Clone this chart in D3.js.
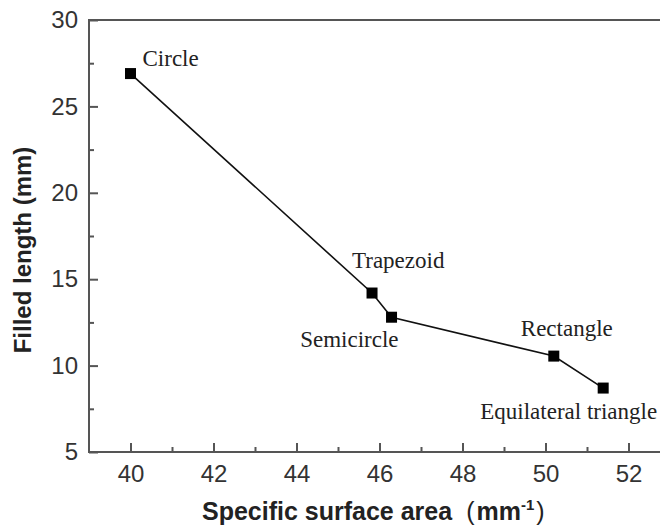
<!DOCTYPE html>
<html>
<head>
<meta charset="utf-8">
<script src="https://cdn.jsdelivr.net/npm/d3@7"></script>
<style>
  body { margin: 0; background: #fff; }
  svg { display: block; }
  .tick text { font-family: "Liberation Sans", Arial, sans-serif; font-size: 24px; fill: #333; }
  .tick line { stroke: #555; stroke-width: 2px; }
</style>
</head>
<body>
<script>
// data
const shapes = ["Circle", "Trapezoid", "Semicircle", "Rectangle", "Equilateral triangle"];
const surfaceArea = [40.0, 45.82, 46.29, 50.2, 51.39];
const filledLength = [26.9, 14.2, 12.8, 10.55, 8.7];
const xTicks = [40, 42, 44, 46, 48, 50, 52];
const xMinor = [41, 43, 45, 47, 49, 51];
const yTicks = [5, 10, 15, 20, 25, 30];
const yMinor = [7.5, 12.5, 17.5, 22.5, 27.5];

// label placement relative to each point (px)
const labelPos = {
  "Circle": { dx: 12, dy: -8, anchor: "start" },
  "Trapezoid": { dx: -20, dy: -25, anchor: "start" },
  "Semicircle": { dx: 7, dy: 30, anchor: "end" },
  "Rectangle": { dx: -33, dy: -20, anchor: "start" },
  "Equilateral triangle": { dx: 54, dy: 31, anchor: "end" }
};

const width = 660, height = 529;
const margin = { left: 89, top: 20, bottom: 77 };

const x = d3.scaleLinear().domain([39, 53]).range([margin.left, margin.left + 581]);
const y = d3.scaleLinear().domain([5, 30]).range([height - margin.bottom, margin.top]);

const svg = d3.select("body").append("svg")
  .attr("width", width)
  .attr("height", height);

// minor ticks
svg.append("g")
  .attr("transform", `translate(0,${y(5)})`)
  .call(d3.axisBottom(x).tickValues(xMinor).tickSize(-5).tickFormat(""))
  .call(g => g.select(".domain").remove());
svg.append("g")
  .attr("transform", `translate(${x(39)},0)`)
  .call(d3.axisLeft(y).tickValues(yMinor).tickSize(-5).tickFormat(""))
  .call(g => g.select(".domain").remove());

// major ticks
svg.append("g")
  .attr("transform", `translate(0,${y(5)})`)
  .call(d3.axisBottom(x).tickValues(xTicks).tickSize(-9).tickPadding(13))
  .call(g => g.select(".domain").remove());
svg.append("g")
  .attr("transform", `translate(${x(39)},0)`)
  .call(d3.axisLeft(y).tickValues(yTicks).tickSize(-9).tickPadding(11))
  .call(g => g.select(".domain").remove());

// frame
svg.append("rect")
  .attr("x", x(39))
  .attr("y", y(30))
  .attr("width", x(53) - x(39))
  .attr("height", y(5) - y(30))
  .attr("fill", "none")
  .attr("stroke", "#555")
  .attr("stroke-width", 2);

const pts = shapes.map((s, i) => ({ name: s, x: surfaceArea[i], y: filledLength[i] }));

svg.append("path")
  .datum(pts)
  .attr("fill", "none")
  .attr("stroke", "#111")
  .attr("stroke-width", 1.6)
  .attr("d", d3.line().x(d => x(d.x)).y(d => y(d.y)));

svg.selectAll(".pt")
  .data(pts)
  .join("rect")
  .attr("class", "pt")
  .attr("x", d => x(d.x) - 5.5)
  .attr("y", d => y(d.y) - 5.5)
  .attr("width", 11)
  .attr("height", 11)
  .attr("fill", "#000");

svg.selectAll(".lbl")
  .data(pts)
  .join("text")
  .attr("class", "lbl")
  .attr("x", d => x(d.x) + labelPos[d.name].dx)
  .attr("y", d => y(d.y) + labelPos[d.name].dy)
  .attr("text-anchor", d => labelPos[d.name].anchor)
  .style("font-family", "'Liberation Serif', 'Times New Roman', serif")
  .style("font-size", "23px")
  .style("fill", "#222")
  .text(d => d.name);

// axis titles
const xTitle = svg.append("text")
  .attr("x", 202)
  .attr("y", 520)
  .style("font-family", "'Liberation Sans', Arial, sans-serif")
  .style("font-weight", "bold")
  .style("font-size", "25px")
  .style("fill", "#222");
xTitle.append("tspan").text("Specific surface area");
xTitle.append("tspan").attr("dx", 14).style("font-weight", "normal").text("(");
xTitle.append("tspan").attr("dx", 2).text("mm");
xTitle.append("tspan").attr("dy", -10).style("font-size", "15px").text("-1");
xTitle.append("tspan").attr("dy", 10).attr("dx", 2).style("font-weight", "normal").text(")");

svg.append("text")
  .attr("transform", `translate(31,${250}) rotate(-90)`)
  .attr("text-anchor", "middle")
  .style("font-family", "'Liberation Sans', Arial, sans-serif")
  .style("font-weight", "bold")
  .style("font-size", "24px")
  .style("fill", "#222")
  .text("Filled length (mm)");
</script>
</body>
</html>
